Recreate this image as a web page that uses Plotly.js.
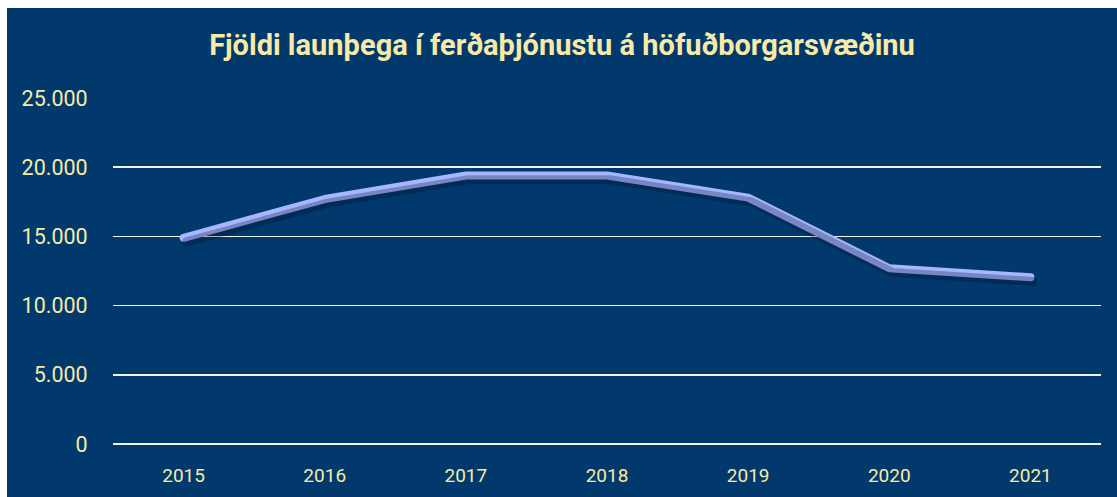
<!DOCTYPE html>
<html>
<head>
<meta charset="utf-8">
<script src="https://cdn.plot.ly/plotly-3.0.1.min.js"></script>
<style>
  html, body { margin: 0; padding: 0; background: #ffffff; }
  #chart { position: absolute; left: 7px; top: 8px; width: 1110px; height: 489px; }
  .scatterlayer .js-line { stroke-linecap: round; stroke-linejoin: round; }
</style>
</head>
<body>
<div id="chart"></div>
<script>
const years = ["2015", "2016", "2017", "2018", "2019", "2020", "2021"];
const employees = [14900, 17700, 19400, 19400, 17800, 12700, 12050];
const yTicks = [0, 5000, 10000, 15000, 20000, 25000];
const yTickLabels = ["0", "5.000", "10.000", "15.000", "20.000", "25.000"];
const titleText = "Fjöldi launþega í ferðaþjónustu á höfuðborgarsvæðinu";

const navy = "#02396c";
const cream = "#f8eaa6";

const shadow = {
  x: years, y: employees, type: "scatter", mode: "lines",
  xaxis: "x2", yaxis: "y2",
  line: { color: "rgba(0,12,35,0.28)", width: 9 },
  hoverinfo: "skip", showlegend: false
};
const main = {
  x: years, y: employees, type: "scatter", mode: "lines",
  line: { color: "#a6b6ff", width: 8 },
  showlegend: false
};

const layout = {
  width: 1110, height: 489,
  paper_bgcolor: navy, plot_bgcolor: navy,
  margin: { l: 106, r: 16, t: 90, b: 53 },
  title: {
    text: "<b>" + titleText + "</b>",
    font: { family: "Roboto, sans-serif", size: 29, color: cream },
    x: 0.5, xanchor: "center", y: 0.925, yanchor: "middle"
  },
  xaxis: {
    type: "category", range: [-0.5, 6.5],
    showgrid: false, zeroline: false, showline: false,
    ticks: "outside", ticklen: 14, tickcolor: "rgba(0,0,0,0)",
    tickfont: { family: "Roboto, sans-serif", size: 19, color: cream }
  },
  xaxis2: {
    type: "category", range: [-0.52, 6.48], overlaying: "x",
    visible: false
  },
  yaxis: {
    range: [0, 25000],
    tickvals: yTicks, ticktext: yTickLabels,
    showgrid: true, gridcolor: "#f4f1e6", gridwidth: 1.6,
    zeroline: true, zerolinecolor: "#f4f1e6", zerolinewidth: 1.6,
    showline: false,
    ticks: "outside", ticklen: 20, tickcolor: "rgba(0,0,0,0)",
    tickfont: { family: "Roboto, sans-serif", size: 21.5, color: cream }
  },
  yaxis2: {
    range: [300, 25300], overlaying: "y", visible: false
  }
};

Plotly.newPlot("chart", [shadow, main], layout, { displayModeBar: false, staticPlot: true });
</script>
</body>
</html>
